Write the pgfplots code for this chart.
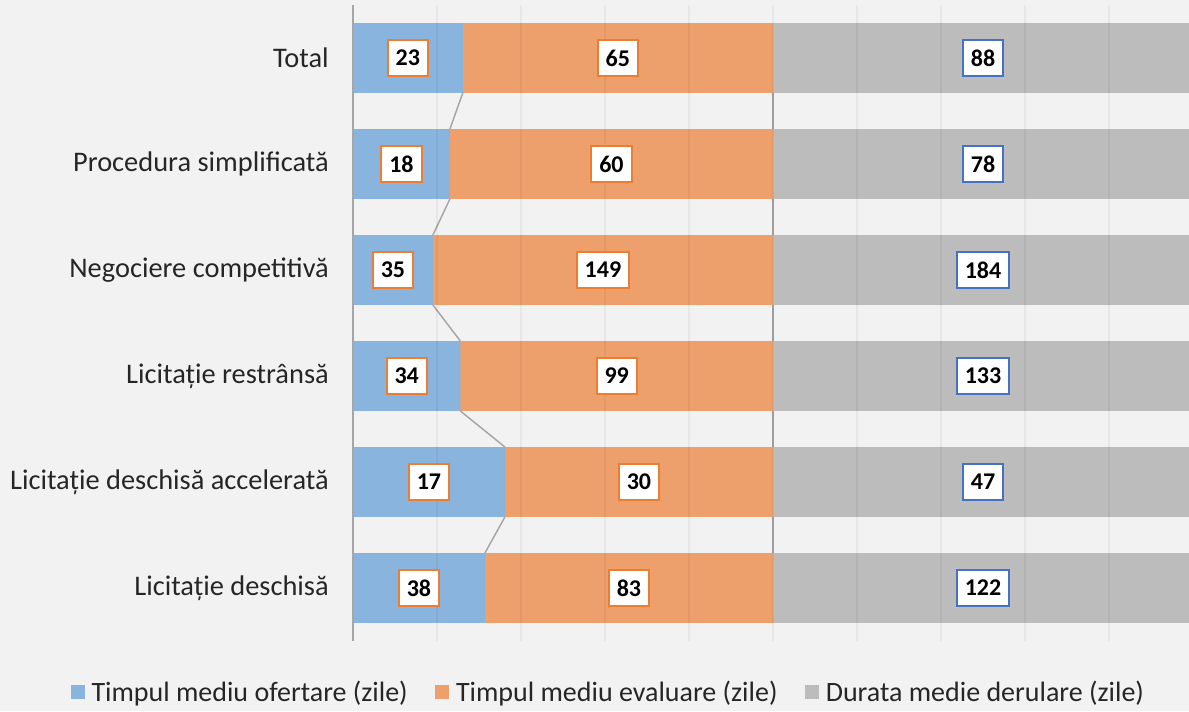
\documentclass[border=0pt]{standalone}
\usepackage{pgfplots}
\usepackage{pgfplotstable}
\pgfplotsset{compat=1.18}
\usepackage{fontspec}
\setmainfont{Carlito}
\definecolor{bg}{HTML}{F2F2F2}
\definecolor{cblue}{HTML}{88B4DE}
\definecolor{corange}{HTML}{EDA06B}
\definecolor{cgray}{HTML}{BCBCBC}
\definecolor{lorange}{HTML}{ED7D31}
\definecolor{lblue}{HTML}{4472C4}
\definecolor{sline}{HTML}{A6A6A6}
\definecolor{txt}{HTML}{262626}

% idx: category position (0 = top); a,b,c: days; ea,eb,ec: segment end (% of bar); ca,cb,cc: segment centre (%)
\pgfplotstableread{
idx a b c ea eb ec ca cb cc
0 23 65 88 13.068 50 100 6.534 31.534 75
1 18 60 78 11.538 50 100 5.769 30.769 75
2 35 149 184 9.511 50 100 4.755 29.755 75
3 34 99 133 12.782 50 100 6.391 31.391 75
4 17 30 47 18.085 50 100 9.043 34.043 75
5 38 83 122 15.702 50 100 7.851 32.851 75
}\data

\tikzset{lab/.style={anchor=center, fill=white, line width=1.5pt, inner xsep=6pt, inner ysep=0pt,
  minimum height=26.5pt, font=\fontsize{18}{19}\selectfont\bfseries, text=black}}
\pgfplotsset{sl/.style={sline, line width=1.1pt, forget plot}}

\begin{document}
\begin{tikzpicture}
\fill[bg] (-264.75pt,-52.5pt) rectangle (627pt,480.75pt);
\begin{axis}[
  at={(0,0)}, anchor=south west, scale only axis,
  width=627pt, height=477pt,
  xmin=0, xmax=99.52, ymin=-0.5, ymax=5.5, y dir=reverse,
  axis lines*=left, axis line style={-},
  x axis line style={draw=none},
  y axis line style={draw=sline, line width=1.1pt},
  axis on top,
  xtick={10,20,...,90}, xticklabels={}, xmajorgrids,
  major tick length=0pt,
  grid style={black, opacity=0.045, line width=1pt},
  ytick={0,1,2,3,4,5},
  yticklabels={Total, Procedura simplificată, Negociere competitivă, Licitație restrânsă, Licitație deschisă accelerată, Licitație deschisă},
  yticklabel style={anchor=east, inner sep=0pt, xshift=-18pt, font=\fontsize{21.3}{25}\selectfont, text=txt},
  legend image code/.code={\fill[#1] (0pt,-4.875pt) rectangle (9.75pt,4.875pt);},
  legend columns=3,
  legend style={at={(0.3086,-0.0802)}, anchor=center, draw=none, fill=none,
    font=\fontsize{21}{25}\selectfont, text=txt,
    nodes={inner xsep=5.5pt},
    /tikz/every even column/.append style={column sep=15pt}},
]
\addlegendimage{cblue}
\addlegendimage{corange}
\addlegendimage{cgray}

\addplot[xbar, bar width=0.66, bar shift=0pt, fill=cgray, draw=none, forget plot] table[x=ec, y=idx] {\data};
\addplot[xbar, bar width=0.66, bar shift=0pt, fill=corange, draw=none, forget plot] table[x=eb, y=idx] {\data};
\addplot[xbar, bar width=0.66, bar shift=0pt, fill=cblue, draw=none, forget plot] table[x=ea, y=idx] {\data};

% series lines
\addplot[sl] coordinates {(13.068,0.33) (11.538,0.67)};
\addplot[sl] coordinates {(11.538,1.33) (9.511,1.67)};
\addplot[sl] coordinates {(9.511,2.33) (12.782,2.67)};
\addplot[sl] coordinates {(12.782,3.33) (18.085,3.67)};
\addplot[sl] coordinates {(18.085,4.33) (15.702,4.67)};
\addplot[sl] coordinates {(50,0.33) (50,0.67)};
\addplot[sl] coordinates {(50,1.33) (50,1.67)};
\addplot[sl] coordinates {(50,2.33) (50,2.67)};
\addplot[sl] coordinates {(50,3.33) (50,3.67)};
\addplot[sl] coordinates {(50,4.33) (50,4.67)};

% data labels
\addplot[only marks, mark=none, forget plot, nodes near coords, point meta=explicit symbolic,
  nodes near coords style={lab, draw=lorange}] table[x=ca, y=idx, meta=a] {\data};
\addplot[only marks, mark=none, forget plot, nodes near coords, point meta=explicit symbolic,
  nodes near coords style={lab, draw=lorange}] table[x=cb, y=idx, meta=b] {\data};
\addplot[only marks, mark=none, forget plot, nodes near coords, point meta=explicit symbolic,
  nodes near coords style={lab, draw=lblue}] table[x=cc, y=idx, meta=c] {\data};

\legend{Timpul mediu ofertare (zile), Timpul mediu evaluare (zile), Durata medie derulare (zile)}
\end{axis}
\pgfresetboundingbox
\useasboundingbox (-264.75pt,-52.5pt) rectangle (627pt,480.75pt);
\end{tikzpicture}
\end{document}
